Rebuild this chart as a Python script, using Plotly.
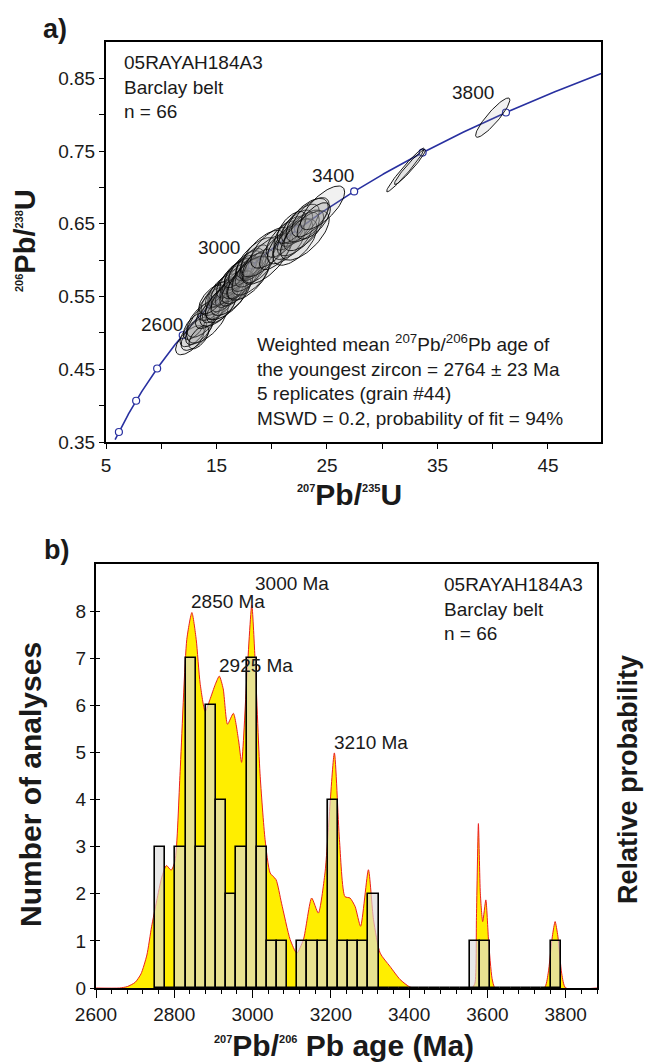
import numpy as np
import plotly.graph_objects as go

W, H = 649, 1064

# ---------------- DATA ----------------
# Concordia marker ages (Ma)
marker_ages = [2000, 2200, 2400, 2600, 2800, 3000, 3200, 3400, 3600, 3800]
label_ages = [2600, 3000, 3400, 3800]

# Error ellipses: 207Pb/235U, 206Pb/238U, 2-sigma errors, error correlation
ell_x = [12.6, 12.9, 13.2, 13.0, 13.5, 13.8, 14.2, 13.4,
         14.4, 14.7, 14.9, 15.1, 15.3, 15.5, 15.2, 15.6, 15.8, 15.0, 15.4, 16.0, 14.6, 16.2, 15.9,
         16.4, 16.6, 16.8, 16.5, 17.0, 17.2, 16.9, 17.4, 17.1, 16.3, 17.6, 16.7,
         17.8, 18.0, 18.2, 18.4, 18.1, 18.6, 18.3, 17.9, 18.8, 19.2, 19.5,
         19.9, 20.4,
         21.0, 21.3, 21.6, 21.9, 22.2, 22.4, 22.1, 22.6, 21.8,
         22.9, 23.2, 23.0, 23.5, 24.6, 23.8,
         32.1, 32.5, 40.0]
ell_y = [0.490, 0.500, 0.499, 0.509, 0.506, 0.519, 0.518, 0.494,
         0.526, 0.540, 0.533, 0.548, 0.541, 0.555, 0.536, 0.558, 0.551, 0.552, 0.534, 0.563, 0.546, 0.557, 0.546,
         0.571, 0.564, 0.578, 0.556, 0.581, 0.574, 0.563, 0.587, 0.566, 0.552, 0.589, 0.580,
         0.580, 0.594, 0.587, 0.599, 0.579, 0.603, 0.591, 0.575, 0.592, 0.609, 0.601,
         0.617, 0.612,
         0.629, 0.622, 0.637, 0.629, 0.644, 0.636, 0.625, 0.650, 0.645,
         0.641, 0.655, 0.634, 0.659, 0.672, 0.654,
         0.724, 0.728, 0.796]
ell_sx = [1.3, 1.2, 1.4, 1.0, 1.3, 1.5, 1.9, 0.9,
          1.3, 1.4, 1.2, 1.5, 1.3, 1.2, 1.7, 1.4, 1.3, 1.0, 1.3, 1.5, 1.2, 1.3, 1.9,
          1.4, 1.3, 1.5, 1.2, 1.3, 1.7, 1.4, 1.3, 1.2, 1.8, 1.5, 1.0,
          1.4, 1.3, 1.5, 1.3, 1.7, 1.8, 1.2, 1.9, 1.4, 2.0, 2.2,
          1.8, 1.5,
          1.5, 1.7, 1.4, 1.8, 1.5, 1.9, 2.0, 1.7, 1.3,
          1.8, 1.9, 2.2, 1.7, 2.0, 1.5,
          1.7, 1.4, 1.55]
ell_sy = [0.020, 0.019, 0.023, 0.018, 0.022, 0.025, 0.032, 0.016,
          0.020, 0.023, 0.019, 0.024, 0.022, 0.019, 0.027, 0.023, 0.022, 0.018, 0.020, 0.025, 0.020, 0.022, 0.028,
          0.023, 0.022, 0.024, 0.019, 0.022, 0.027, 0.023, 0.020, 0.019, 0.028, 0.024, 0.018,
          0.023, 0.022, 0.024, 0.022, 0.027, 0.028, 0.019, 0.030, 0.023, 0.032, 0.034,
          0.028, 0.025,
          0.025, 0.027, 0.023, 0.028, 0.025, 0.030, 0.032, 0.027, 0.022,
          0.028, 0.030, 0.034, 0.027, 0.030, 0.025,
          0.030, 0.024, 0.027]
ell_rho = [0.64, 0.62, 0.66, 0.60, 0.64, 0.62, 0.64, 0.60,
           0.64, 0.62, 0.66, 0.64, 0.60, 0.64, 0.66, 0.62, 0.64, 0.60, 0.62, 0.66, 0.60, 0.62, 0.66,
           0.64, 0.62, 0.66, 0.60, 0.64, 0.66, 0.62, 0.64, 0.60, 0.66, 0.64, 0.60,
           0.64, 0.62, 0.66, 0.64, 0.62, 0.66, 0.60, 0.66, 0.62, 0.66, 0.68,
           0.64, 0.66,
           0.66, 0.64, 0.62, 0.66, 0.64, 0.66, 0.62, 0.66, 0.60,
           0.66, 0.62, 0.66, 0.64, 0.72, 0.66,
           0.97, 0.96, 0.90]

# Histogram of 207Pb/206Pb ages
bin_start = 2751.0
bin_width = 25.95
bin_counts = [3, 0, 3, 7, 3, 6, 4, 2, 3, 7, 3, 1, 1, 0, 1, 1, 1, 4, 1, 1, 1, 2,
              0, 0, 0, 0, 0, 0, 0, 0, 0, 1, 1, 0, 0, 0, 0, 0, 0, 1]

# Relative probability curve (scaled to count axis)
prob_age = [2600, 2660, 2680, 2700, 2715, 2730, 2742, 2755, 2768, 2780, 2792, 2802, 2815,
            2832, 2845, 2856, 2866, 2879, 2891, 2905, 2915, 2925, 2936, 2951, 2964, 2972,
            2985, 2998, 3006, 3019, 3032, 3045, 3060, 3074, 3096, 3113, 3130, 3151, 3168,
            3185, 3209, 3222, 3236, 3249, 3262, 3276, 3296, 3309, 3326, 3351, 3377, 3402,
            3420, 3560, 3568, 3572, 3577, 3582, 3588, 3596, 3603, 3612, 3620, 3745, 3755,
            3766, 3773, 3780, 3790, 3800, 3880]
prob_val = [0, 0, 0.03, 0.12, 0.3, 0.7, 1.3, 1.85, 2.35, 2.6, 2.5, 2.7, 4.6,
            7.4, 7.97, 7.4, 6.47, 5.87, 6.12, 6.45, 6.62, 6.35, 5.6, 5.83, 5.27, 4.79,
            6.54, 8.13, 7.04, 4.56, 3.15, 2.44, 2.3, 1.8, 1.03, 0.74, 1.03, 1.91, 1.59,
            2.44, 4.99, 3.15, 1.94, 1.91, 1.73, 1.31, 2.51, 1.45, 0.74, 0.46, 0.18, 0.02,
            0, 0, 0.1, 1.5, 3.49, 2.0, 1.41, 1.87, 1.0, 0.2, 0, 0, 0.3,
            1.1, 1.41, 1.1, 0.3, 0, 0]

peak_labels = ["2850 Ma", "3000 Ma", "2925 Ma", "3210 Ma"]

# ---------------- FIGURE ----------------
L238 = 1.55125e-4  # per Ma
L235 = 9.8485e-4   # per Ma

def conc(t):
    t = np.asarray(t, dtype=float)
    return np.exp(L235 * t) - 1.0, np.exp(L238 * t) - 1.0

def P(px, py):
    return px / W, 1 - py / H

FONT = "Liberation Sans, Arial, Helvetica, sans-serif"
INK = "#1a1a1a"
BLUE = "rgb(40,48,160)"

fig = go.Figure()

# concordia curve
tc = np.linspace(1950, 4000, 400)
cx, cy = conc(tc)
fig.add_trace(go.Scatter(x=cx, y=cy, mode="lines", line=dict(color=BLUE, width=1.6),
                         hoverinfo="skip", showlegend=False, xaxis="x", yaxis="y"))
mx, my = conc(marker_ages)
fig.add_trace(go.Scatter(x=mx, y=my, mode="markers",
                         marker=dict(size=7, color="white", line=dict(color=BLUE, width=1.2)),
                         hoverinfo="skip", showlegend=False, xaxis="x", yaxis="y"))

# ellipses
th = np.linspace(0, 2 * np.pi, 72)
for x0, y0, sx, sy, r in zip(ell_x, ell_y, ell_sx, ell_sy, ell_rho):
    ex = x0 + sx * np.cos(th)
    ey = y0 + sy * (r * np.cos(th) + np.sqrt(1 - r * r) * np.sin(th))
    fig.add_trace(go.Scatter(x=ex, y=ey, mode="lines", fill="toself",
                             fillcolor="rgba(150,150,150,0.13)",
                             line=dict(color="black", width=0.9),
                             hoverinfo="skip", showlegend=False, xaxis="x", yaxis="y"))

# probability curve (base axes)
fig.add_trace(go.Scatter(x=prob_age, y=prob_val, mode="lines", fill="tozeroy",
                         fillcolor="rgb(255,238,0)",
                         line=dict(color="rgb(235,30,30)", width=1, shape="spline", smoothing=0.6),
                         hoverinfo="skip", showlegend=False, xaxis="x2", yaxis="y2"))

# histogram bars (overlay axes so they sit above the curve)
centers = [bin_start + bin_width * (i + 0.5) for i in range(len(bin_counts))]
fig.add_trace(go.Bar(x=centers, y=bin_counts, width=bin_width,
                     marker=dict(color="rgba(220,220,220,0.655)", line=dict(color="black", width=1.6)),
                     hoverinfo="skip", showlegend=False, xaxis="x3", yaxis="y3"))

top_x = [106, 601]
top_y = [42, 442]
bot_x = [96, 597]
bot_y = [564, 988]

tickfont = dict(family=FONT, size=19, color=INK)
common = dict(showline=True, linecolor="black", linewidth=2, mirror=True, showgrid=False,
              zeroline=False, ticks="outside", tickcolor="black", tickwidth=1.2,
              tickfont=tickfont, automargin=False)

bx_dom = [bot_x[0] / W, bot_x[1] / W]
by_dom = [1 - bot_y[1] / H, 1 - bot_y[0] / H]

fig.update_layout(
    width=W, height=H, margin=dict(l=0, r=0, t=0, b=0, autoexpand=False),
    paper_bgcolor="white", plot_bgcolor="white", bargap=0,
    font=dict(family=FONT, color=INK),
    xaxis=dict(domain=[top_x[0] / W, top_x[1] / W], range=[5, 49.8], anchor="y",
               tickvals=[5, 15, 25, 35, 45], ticklen=5,
               minor=dict(tickvals=[10, 20, 30, 40], ticklen=5, ticks="outside", tickcolor="black"),
               **common),
    yaxis=dict(domain=[1 - top_y[1] / H, 1 - top_y[0] / H], range=[0.35, 0.9], anchor="x",
               tickvals=[0.35, 0.45, 0.55, 0.65, 0.75, 0.85], tickformat=".2f", ticklen=5,
               minor=dict(tickvals=[0.4, 0.5, 0.6, 0.7, 0.8], ticklen=5, ticks="outside", tickcolor="black"),
               **common),
    xaxis2=dict(domain=bx_dom, range=[2600, 3880], anchor="y2",
                tickvals=list(range(2600, 3801, 200)), ticklen=8,
                minor=dict(dtick=40, tick0=2600, ticklen=4, ticks="outside", tickcolor="black"),
                **common),
    yaxis2=dict(domain=by_dom, range=[0, 9], anchor="x2",
                tickvals=list(range(0, 9)), ticklen=4, **common),
    xaxis3=dict(domain=bx_dom, range=[2600, 3880], overlaying="x2", anchor="y3", visible=False,
                automargin=False),
    yaxis3=dict(domain=by_dom, range=[0, 9], overlaying="y2", anchor="x3", side="left",
                showline=False, showgrid=False, zeroline=False, showticklabels=False,
                ticks="inside", ticklen=4, tickwidth=1.2, tickcolor="black",
                tickvals=list(range(1, 9)), automargin=False),
)

ann = []
def txt(text, px, py, size=19, xa="left", ya="middle", bold=False, angle=0, align="left"):
    x, y = P(px, py)
    if bold:
        text = "<b>" + text + "</b>"
    ann.append(dict(text=text, x=x, y=y, xref="paper", yref="paper", xanchor=xa, yanchor=ya,
                    showarrow=False, textangle=angle, align=align,
                    font=dict(family=FONT, size=size, color=INK)))

# panel labels
txt("a)", 55, 29, size=27, xa="center", bold=True)
txt("b)", 56, 550, size=27, xa="center", bold=True)

# top panel texts
txt("05RAYAH184A3<br>Barclay belt<br>n = 66", 122, 86.7)
txt("Weighted mean <sup>207</sup>Pb/<sup>206</sup>Pb age of<br>the youngest zircon = 2764 ± 23 Ma"
    "<br>5 replicates (grain #44)<br>MSWD = 0.2, probability of fit = 94%", 255, 380)

# concordia age labels
lx, ly = conc(label_ages)
shifts = {2600: (2, -2), 3000: (-10, 6), 3400: (2, 3), 3800: (-10, 8)}
for a, xx, yy in zip(label_ages, lx, ly):
    dx, dy = shifts[a]
    ann.append(dict(text=str(a), x=xx, y=yy, xref="x", yref="y", xanchor="right", yanchor="bottom",
                    xshift=dx, yshift=dy, showarrow=False,
                    font=dict(family=FONT, size=19, color=INK)))

# bottom panel texts
txt("05RAYAH184A3<br>Barclay belt<br>n = 66", 442, 609)
txt(peak_labels[0], 189, 601)
txt(peak_labels[1], 253, 583)
txt(peak_labels[2], 217, 665)
txt(peak_labels[3], 332, 742)

sm = lambda s: "<sup><span style='font-size:11px'>" + s + "</span></sup>"
# axis titles
txt(sm("206") + "Pb/" + sm("238") + "U", 25, 241, size=29, xa="center", bold=True, angle=-90)
txt(sm("207") + "Pb/" + sm("235") + "U", 349, 494, size=30, xa="center", bold=True)
txt("Number of analyses", 30, 785, size=30, xa="center", bold=True, angle=-90)
txt("Relative probability", 628, 780, size=27, xa="center", bold=True, angle=-90)
txt(sm("207") + "Pb/" + sm("206") + " Pb age (Ma)", 344, 1045, size=30, xa="center", bold=True)

fig.update_layout(annotations=ann)
fig.write_html("out.html", config={"displayModeBar": False},
               post_script="document.body.style.margin='0px';document.body.style.overflow='hidden';")
